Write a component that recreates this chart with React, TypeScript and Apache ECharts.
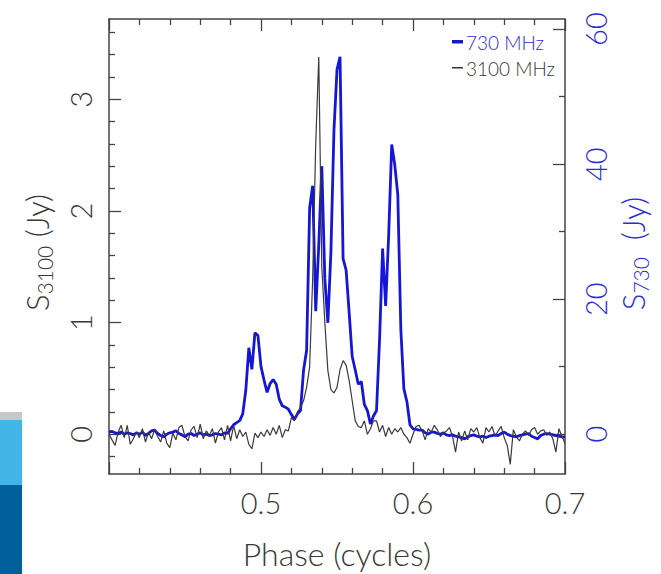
import React, { useEffect, useRef } from 'react';
import * as echarts from 'echarts';

// Phase sampling grid (cycles)
const PHASE_START = 0.4;
const PHASE_STEP = 0.002;

// 3100 MHz flux density (Jy), left axis
const S3100 = [
  0.0, -0.05, -0.1, 0.02, 0.08, -0.03, 0.08, -0.09, -0.04, 0.02,
  -0.03, 0.05, -0.07, 0.02, -0.04, 0.04, -0.02, -0.07, 0.03, -0.08,
  -0.12, 0.01, -0.05, 0.06, 0.08, -0.02, -0.06, 0.04, 0.07, -0.03,
  0.09, -0.04, 0.03, -0.01, 0.05, -0.08, 0.02, 0.06, -0.05, 0.08,
  -0.06, 0.08, -0.04, 0.04, -0.02, 0.02, -0.09, -0.13, 0.01, -0.03,
  0.02, -0.02, 0.04, -0.01, 0.06, 0.0, 0.08, -0.03, 0.04, 0.03,
  0.15, 0.12, 0.2, 0.24, 0.3, 0.42, 0.6, 1.4, 2.6, 3.38,
  1.5, 1.0, 0.57, 0.4, 0.37, 0.42, 0.58, 0.66, 0.62, 0.48,
  0.3, 0.12, 0.07, 0.06, 0.12, 0.0, 0.05, 0.12, 0.12, 0.02,
  0.08, -0.02, 0.06, 0.0, 0.05, 0.02, 0.06, 0.0, -0.03, -0.08,
  0.0, 0.07, 0.08, 0.03, -0.05, 0.05, 0.02, 0.08, 0.04, -0.02,
  0.01, 0.03, 0.06, -0.02, -0.16, 0.02, -0.06, 0.03, -0.05, 0.05,
  0.02, 0.06, -0.03, -0.08, 0.06, 0.02, 0.07, -0.02, 0.03, 0.07,
  -0.03, -0.1, -0.27, 0.04, -0.02, -0.06, 0.0, 0.03, -0.01, 0.04,
  0.06, 0.0, 0.03, 0.04, -0.01, 0.02, -0.04, -0.16, 0.05, -0.02, -0.08,
];

// 730 MHz flux density (Jy), right axis
const S730 = [
  0.3, 0.4, 0.2, 0.1, 0.3, 0.0, 0.2, 0.1, -0.1, 0.2,
  0.0, 0.3, -0.2, 0.1, 0.5, 0.6, 0.1, -0.2, -0.4, 0.0,
  0.2, 0.3, 0.5, 0.1, -0.1, -0.4, 0.0, 0.1, -0.2, 0.0,
  0.2, -0.1, 0.0, -0.2, -0.1, 0.1, 0.0, -0.1, 0.2, 0.1,
  0.8, 1.4, 1.7, 2.0, 3.0, 6.5, 12.8, 9.6, 15.0, 14.6,
  10.0, 8.0, 6.2, 7.5, 8.1, 7.4, 5.2, 4.2, 4.0, 3.7,
  2.9, 2.2, 3.0, 3.5, 9.5, 12.4, 33.5, 36.8, 18.2, 28,
  39.7, 23, 16.5, 27, 45, 54, 55.9, 26, 24.3, 18,
  11.5, 9.5, 7.4, 7.8, 4.4, 3.5, 1.5, 2.7, 3.5, 14,
  27.5, 19, 29.5, 42.9, 39.9, 35.5, 15.5, 6.7, 4.8, 1.4,
  0.8, 0.7, 0.6, 0.6, 0.2, 0.0, 0.3, 0.3, 0.1, 0.0,
  0.2, -0.1, -0.2, -0.1, -0.3, -0.4, -0.5, -0.7, -0.4, -0.2,
  -0.1, -0.3, -0.4, -0.3, -0.5, -0.3, -0.2, -0.1, -0.2, 0.1,
  0.3, 0.0, -0.2, -0.3, -0.4, -0.2, -0.1, 0.0, 0.1, -0.3,
  -0.5, -0.7, -0.2, 0.0, 0.1, 0.0, -0.1, -0.2, -0.3, -0.4, -0.4,
];

const SERIES_NAMES = ['730 MHz', '3100 MHz'];
const X_MIN = 0.4;
const X_MAX = 0.7;
const X_INTERVAL = 0.1;
const LEFT_MIN = -0.356;
const LEFT_MAX = 3.72;
const LEFT_MAJOR = [0, 1, 2, 3];
const LEFT_MINOR = [-0.2, 0.2, 0.4, 0.6, 0.8, 1.2, 1.4, 1.6, 1.8, 2.2, 2.4, 2.6, 2.8, 3.2, 3.4, 3.6];
const RIGHT_MIN = -5.9;
const RIGHT_MAX = 61.5;
const RIGHT_MAJOR = [0, 20, 40, 60];
const RIGHT_MINOR = [10, 30, 50];

const FONT = "Lato, 'Liberation Sans', Arial, sans-serif";
const WEIGHT = 300;
const INK = '#383838';
const FRAME = '#444444';
const BLUE = '#1616d6';
const BLUE_TEXT = '#2c2cd0';

function buildOption() {
  const phases = S3100.map((_, i) => +(PHASE_START + i * PHASE_STEP).toFixed(4));
  const blackData = S3100.map((v, i) => [phases[i], v]);
  const blueData = S730.map((v, i) => [phases[i], v]);

  const frameLine = { color: FRAME, width: 1.5 };
  const tickLine = { color: FRAME, width: 1.3 };

  const nameRich = (color: string, tail: number) => ({
    s: { fontSize: 31, fontFamily: FONT, fontWeight: WEIGHT, color, lineHeight: 36 },
    sub: { fontSize: 21, fontFamily: FONT, fontWeight: WEIGHT, color, lineHeight: 24, verticalAlign: 'bottom' },
    e: { width: tail, fontSize: 31, lineHeight: 36 },
  });

  return {
    animation: false,
    backgroundColor: '#ffffff',
    grid: { left: 109, right: 96, top: 19, bottom: 97, show: false, containLabel: false },
    xAxis: [
      {
        type: 'value', position: 'bottom', min: X_MIN, max: X_MAX, interval: X_INTERVAL,
        axisLine: { show: true, onZero: false, lineStyle: frameLine },
        axisTick: { show: true, inside: true, length: 12, lineStyle: tickLine },
        minorTick: { show: true, splitNumber: 5, length: 6, lineStyle: tickLine },
        splitLine: { show: false },
        axisLabel: {
          margin: 14, fontSize: 29, color: INK, fontFamily: FONT, fontWeight: WEIGHT,
          formatter: (v: number) => (Math.abs(v - X_MIN) < 1e-6 ? '' : v.toFixed(1)),
        },
        name: 'Phase (cycles)', nameLocation: 'middle', nameGap: 63,
        nameTextStyle: { fontSize: 32, color: INK, fontFamily: FONT, fontWeight: WEIGHT },
      },
      {
        type: 'value', position: 'top', min: X_MIN, max: X_MAX, interval: X_INTERVAL,
        axisLine: { show: true, onZero: false, lineStyle: frameLine },
        axisTick: { show: true, inside: true, length: 12, lineStyle: tickLine },
        minorTick: { show: true, splitNumber: 5, length: 6, lineStyle: tickLine },
        splitLine: { show: false },
        axisLabel: { show: false },
      },
    ],
    yAxis: [
      {
        type: 'value', position: 'left', min: LEFT_MIN, max: LEFT_MAX,
        axisLine: { show: true, onZero: false, lineStyle: frameLine },
        axisTick: { show: true, inside: true, length: 12, lineStyle: tickLine, customValues: LEFT_MAJOR },
        axisLabel: { show: true, customValues: LEFT_MAJOR, rotate: 90, margin: 14, fontSize: 29, color: INK, fontFamily: FONT, fontWeight: WEIGHT },
        splitLine: { show: false },
        name: '{s|S}{sub|3100}{s| (Jy)}{e| }', nameLocation: 'middle', nameRotate: 90, nameGap: 54,
        nameTextStyle: { rich: nameRich(INK, 12) },
      },
      {
        type: 'value', position: 'right', min: RIGHT_MIN, max: RIGHT_MAX,
        axisLine: { show: true, onZero: false, lineStyle: frameLine },
        axisTick: { show: true, inside: true, length: 12, lineStyle: tickLine, customValues: RIGHT_MAJOR },
        axisLabel: { show: true, customValues: RIGHT_MAJOR, rotate: 90, margin: 16, fontSize: 29, color: BLUE_TEXT, fontFamily: FONT, fontWeight: WEIGHT },
        splitLine: { show: false },
        name: '{s|S}{sub|730}{s|  (Jy)}{e| }', nameLocation: 'middle', nameRotate: 90, nameGap: 39,
        nameTextStyle: { rich: nameRich(BLUE_TEXT, 14) },
      },
      {
        type: 'value', position: 'left', min: LEFT_MIN, max: LEFT_MAX,
        axisLine: { show: false },
        axisTick: { show: true, inside: true, length: 6, lineStyle: tickLine, customValues: LEFT_MINOR },
        axisLabel: { show: false },
        splitLine: { show: false },
      },
      {
        type: 'value', position: 'right', min: RIGHT_MIN, max: RIGHT_MAX,
        axisLine: { show: false },
        axisTick: { show: true, inside: true, length: 6, lineStyle: tickLine, customValues: RIGHT_MINOR },
        axisLabel: { show: false },
        splitLine: { show: false },
      },
    ],
    series: [
      {
        name: SERIES_NAMES[0], type: 'line', xAxisIndex: 0, yAxisIndex: 1, data: blueData,
        showSymbol: false, symbol: 'none', z: 2,
        lineStyle: { color: BLUE, width: 2.8 },
      },
      {
        name: SERIES_NAMES[1], type: 'line', xAxisIndex: 0, yAxisIndex: 0, data: blackData,
        showSymbol: false, symbol: 'none', z: 3,
        lineStyle: { color: '#3a3a3a', width: 1.2 },
      },
    ],
    graphic: [
      { type: 'rect', left: 0, top: 412, shape: { width: 22, height: 8 }, style: { fill: '#c8c8c8' }, silent: true },
      { type: 'rect', left: 0, top: 420, shape: { width: 22, height: 65 }, style: { fill: '#41b6e6' }, silent: true },
      { type: 'rect', left: 0, top: 485, shape: { width: 22, height: 89 }, style: { fill: '#00609c' }, silent: true },
      { type: 'rect', x: 452, y: 40, shape: { width: 11, height: 3.5 }, style: { fill: BLUE }, silent: true },
      { type: 'text', x: 466, y: 42, style: { text: SERIES_NAMES[0], fill: BLUE_TEXT, font: `${WEIGHT} 19px ${FONT}`, verticalAlign: 'middle' }, silent: true },
      { type: 'rect', x: 452, y: 67, shape: { width: 11, height: 1.5 }, style: { fill: INK }, silent: true },
      { type: 'text', x: 466, y: 68, style: { text: SERIES_NAMES[1], fill: INK, font: `${WEIGHT} 19px ${FONT}`, verticalAlign: 'middle' }, silent: true },
    ],
  };
}

export default function App() {
  const ref = useRef<HTMLDivElement>(null);
  useEffect(() => {
    if (!ref.current) return;
    const chart = echarts.init(ref.current, undefined, { renderer: 'svg' });
    chart.setOption(buildOption() as any);
    return () => chart.dispose();
  }, []);
  return (
    <div
      ref={ref}
      style={{ position: 'absolute', left: 0, top: 0, width: 661, height: 574, background: '#ffffff' }}
    />
  );
}
